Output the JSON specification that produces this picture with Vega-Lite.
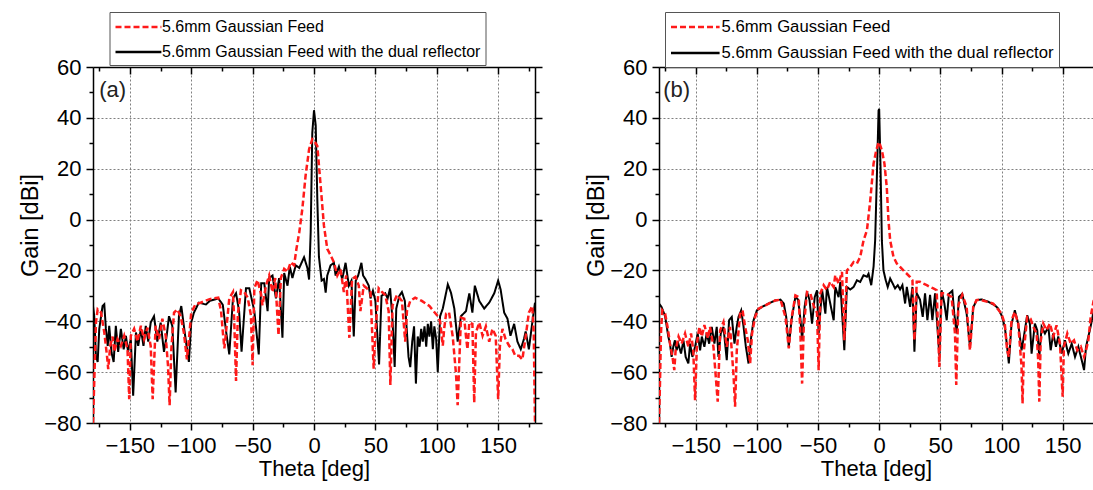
{
  "$schema": "https://vega.github.io/schema/vega-lite/v6.json",
  "padding": {"left": 18, "top": 11, "right": 0, "bottom": 6},
  "background": "white",
  "config": {
    "font": "Liberation Sans",
    "view": {"stroke": null},
    "axis": {
      "domainColor": "black", "domainWidth": 1.5,
      "tickColor": "black", "tickWidth": 1.5,
      "labelColor": "black", "labelFontSize": 22, "labelPadding": 5,
      "titleColor": "black", "titleFontSize": 22, "titleFontWeight": "normal",
      "gridColor": "#808080", "gridDash": [2, 2], "gridWidth": 1,
      "labelOverlap": false, "labelBound": false, "labelFlush": false
    },
    "legend": {
      "orient": "none", "legendY": -55,
      "symbolSize": 324, "symbolStrokeWidth": 2.5,
      "labelColor": "black", "labelLimit": 500,
      "strokeColor": "#555555", "fillColor": "white", "padding": 4.5, "rowPadding": 6
    }
  },
  "datasets": {
    "a": [
      {"s":"D","t":-180,"g":-34},{"s":"D","t":-179,"g":-38},{"s":"D","t":-177.6,"g":-53.6},{"s":"D","t":-176.2,"g":-56},{"s":"D","t":-174.9,"g":-43},{"s":"D","t":-172.2,"g":-34},{"s":"D","t":-170.8,"g":-33.3},{"s":"D","t":-169.5,"g":-43},{"s":"D","t":-168,"g":-49.7},{"s":"D","t":-166.8,"g":-41.8},{"s":"D","t":-164.9,"g":-52.3},{"s":"D","t":-163.2,"g":-56},{"s":"D","t":-161.4,"g":-41.8},{"s":"D","t":-159.5,"g":-52},{"s":"D","t":-157.3,"g":-43},{"s":"D","t":-155,"g":-51},{"s":"D","t":-153.2,"g":-45.7},{"s":"D","t":-151.4,"g":-52},{"s":"D","t":-149.2,"g":-47},{"s":"D","t":-147.3,"g":-69.3},{"s":"D","t":-145,"g":-44.4},{"s":"D","t":-143.2,"g":-49.7},{"s":"D","t":-141,"g":-43},{"s":"D","t":-138.9,"g":-49.7},{"s":"D","t":-137,"g":-41.8},{"s":"D","t":-135,"g":-48},{"s":"D","t":-133,"g":-40.5},{"s":"D","t":-130.3,"g":-38},{"s":"D","t":-127.6,"g":-48},{"s":"D","t":-124.9,"g":-40.5},{"s":"D","t":-122.2,"g":-52},{"s":"D","t":-120,"g":-45.7},{"s":"D","t":-118.1,"g":-38},{"s":"D","t":-115.4,"g":-41.8},{"s":"D","t":-112.7,"g":-68},{"s":"D","t":-110,"g":-38},{"s":"D","t":-108.1,"g":-34},{"s":"D","t":-106,"g":-41.8},{"s":"D","t":-103.8,"g":-49.7},{"s":"D","t":-101.9,"g":-56},{"s":"D","t":-100,"g":-40.5},{"s":"D","t":-97.8,"g":-36.6},{"s":"D","t":-93.8,"g":-32.7},{"s":"D","t":-88,"g":-33.4},{"s":"D","t":-85,"g":-32},{"s":"D","t":-78,"g":-31},{"s":"D","t":-74.3,"g":-33.5},{"s":"D","t":-71.6,"g":-44},{"s":"D","t":-69,"g":-53},{"s":"D","t":-66,"g":-31},{"s":"D","t":-63.5,"g":-29},{"s":"D","t":-61,"g":-36},{"s":"D","t":-59,"g":-52},{"s":"D","t":-55.4,"g":-27},{"s":"D","t":-52.7,"g":-27},{"s":"D","t":-48.6,"g":-36},{"s":"D","t":-45,"g":-53},{"s":"D","t":-43,"g":-25},{"s":"D","t":-40.5,"g":-25},{"s":"D","t":-37.8,"g":-36},{"s":"D","t":-36.5,"g":-23},{"s":"D","t":-33.8,"g":-22},{"s":"D","t":-31,"g":-31},{"s":"D","t":-28.4,"g":-23},{"s":"D","t":-25.7,"g":-46.5},{"s":"D","t":-24.3,"g":-21},{"s":"D","t":-21.6,"g":-26},{"s":"D","t":-19.7,"g":-18.5},{"s":"D","t":-17.6,"g":-23},{"s":"D","t":-14.9,"g":-18},{"s":"D","t":-12,"g":-19},{"s":"D","t":-8.1,"g":-14.8},{"s":"D","t":-5.4,"g":-19},{"s":"D","t":-4,"g":-23.6},{"s":"D","t":-2.7,"g":-5},{"s":"D","t":-1.4,"g":34},{"s":"D","t":0,"g":43},{"s":"D","t":1.4,"g":37},{"s":"D","t":2.7,"g":8},{"s":"D","t":4,"g":-14.5},{"s":"D","t":6.2,"g":-24},{"s":"D","t":8.1,"g":-23.4},{"s":"D","t":9.5,"g":-28.7},{"s":"D","t":10.8,"g":-22},{"s":"D","t":13.5,"g":-18},{"s":"D","t":16.2,"g":-17},{"s":"D","t":17.6,"g":-22},{"s":"D","t":20.3,"g":-18.5},{"s":"D","t":23,"g":-23.4},{"s":"D","t":25.7,"g":-17},{"s":"D","t":28.4,"g":-26},{"s":"D","t":30.5,"g":-24},{"s":"D","t":32.4,"g":-46},{"s":"D","t":34,"g":-24},{"s":"D","t":36,"g":-22},{"s":"D","t":38.6,"g":-17},{"s":"D","t":40,"g":-22},{"s":"D","t":42,"g":-23.5},{"s":"D","t":44.6,"g":-26},{"s":"D","t":46,"g":-31},{"s":"D","t":48,"g":-28},{"s":"D","t":50,"g":-32},{"s":"D","t":53,"g":-57},{"s":"D","t":55,"g":-30},{"s":"D","t":58,"g":-29},{"s":"D","t":60,"g":-31},{"s":"D","t":62,"g":-27},{"s":"D","t":64,"g":-40},{"s":"D","t":65.7,"g":-58},{"s":"D","t":67,"g":-35},{"s":"D","t":69.5,"g":-30},{"s":"D","t":71.6,"g":-28.5},{"s":"D","t":74,"g":-32},{"s":"D","t":77,"g":-54},{"s":"D","t":78.4,"g":-58},{"s":"D","t":80,"g":-48},{"s":"D","t":81.5,"g":-42},{"s":"D","t":83,"g":-64.5},{"s":"D","t":84.5,"g":-46},{"s":"D","t":86,"g":-50},{"s":"D","t":87.3,"g":-43},{"s":"D","t":88.6,"g":-48},{"s":"D","t":90,"g":-42},{"s":"D","t":91.4,"g":-50},{"s":"D","t":92.7,"g":-41},{"s":"D","t":94,"g":-46},{"s":"D","t":95.4,"g":-40},{"s":"D","t":96.8,"g":-51},{"s":"D","t":98,"g":-42},{"s":"D","t":99.5,"g":-47},{"s":"D","t":100.8,"g":-60},{"s":"D","t":102.7,"g":-38},{"s":"D","t":104.9,"g":-35},{"s":"D","t":109,"g":-25.5},{"s":"D","t":111.6,"g":-28.8},{"s":"D","t":114.3,"g":-35},{"s":"D","t":117,"g":-48},{"s":"D","t":119.7,"g":-38},{"s":"D","t":123.8,"g":-36},{"s":"D","t":126.5,"g":-29},{"s":"D","t":129,"g":-36.6},{"s":"D","t":131,"g":-26},{"s":"D","t":134.6,"g":-32},{"s":"D","t":138.6,"g":-35},{"s":"D","t":142.7,"g":-32.7},{"s":"D","t":146.8,"g":-29},{"s":"D","t":150,"g":-24},{"s":"D","t":152,"g":-27.5},{"s":"D","t":154.9,"g":-36.6},{"s":"D","t":157.6,"g":-39},{"s":"D","t":160,"g":-45.7},{"s":"D","t":163,"g":-41},{"s":"D","t":165.7,"g":-48},{"s":"D","t":168.4,"g":-51},{"s":"D","t":171,"g":-47},{"s":"D","t":172.4,"g":-44},{"s":"D","t":175,"g":-51},{"s":"D","t":177.8,"g":-40.5},{"s":"D","t":180,"g":-32.7},
      {"s":"F","t":-180,"g":-80},{"s":"F","t":-179,"g":-64},{"s":"F","t":-177.6,"g":-40.5},{"s":"F","t":-176.2,"g":-35.3},{"s":"F","t":-173.5,"g":-36.5},{"s":"F","t":-170.8,"g":-44.4},{"s":"F","t":-168.6,"g":-53.6},{"s":"F","t":-167.6,"g":-58.8},{"s":"F","t":-166,"g":-49.7},{"s":"F","t":-164,"g":-46},{"s":"F","t":-162.7,"g":-52},{"s":"F","t":-160,"g":-47},{"s":"F","t":-157.3,"g":-49.7},{"s":"F","t":-154.6,"g":-45.7},{"s":"F","t":-151.9,"g":-51},{"s":"F","t":-150.5,"g":-70.6},{"s":"F","t":-149.2,"g":-45.7},{"s":"F","t":-146.5,"g":-43},{"s":"F","t":-143.8,"g":-48},{"s":"F","t":-141,"g":-41.8},{"s":"F","t":-138.4,"g":-47},{"s":"F","t":-135.7,"g":-42.5},{"s":"F","t":-133,"g":-49.7},{"s":"F","t":-131.4,"g":-70.6},{"s":"F","t":-129,"g":-41.8},{"s":"F","t":-126.2,"g":-47},{"s":"F","t":-123.5,"g":-39},{"s":"F","t":-120.8,"g":-45.7},{"s":"F","t":-118.9,"g":-57.5},{"s":"F","t":-117.6,"g":-73},{"s":"F","t":-116.2,"g":-51},{"s":"F","t":-114,"g":-36.6},{"s":"F","t":-111.4,"g":-35.3},{"s":"F","t":-108.6,"g":-38},{"s":"F","t":-106,"g":-44.4},{"s":"F","t":-103.5,"g":-55},{"s":"F","t":-101.5,"g":-45},{"s":"F","t":-100,"g":-36.6},{"s":"F","t":-96.5,"g":-33.3},{"s":"F","t":-92.4,"g":-32.7},{"s":"F","t":-85,"g":-31.3},{"s":"F","t":-78,"g":-30.7},{"s":"F","t":-75.7,"g":-36},{"s":"F","t":-74.3,"g":-44},{"s":"F","t":-73,"g":-50.7},{"s":"F","t":-71.6,"g":-44},{"s":"F","t":-69,"g":-31},{"s":"F","t":-66,"g":-28.5},{"s":"F","t":-65,"g":-39},{"s":"F","t":-63.5,"g":-63.5},{"s":"F","t":-62,"g":-37},{"s":"F","t":-59.5,"g":-27.8},{"s":"F","t":-56.8,"g":-28.5},{"s":"F","t":-54,"g":-30.7},{"s":"F","t":-51.4,"g":-37.6},{"s":"F","t":-50,"g":-57.3},{"s":"F","t":-48.6,"g":-27},{"s":"F","t":-46,"g":-23.8},{"s":"F","t":-43,"g":-29.6},{"s":"F","t":-42,"g":-33.7},{"s":"F","t":-39,"g":-25.8},{"s":"F","t":-36.5,"g":-22},{"s":"F","t":-33.8,"g":-28.5},{"s":"F","t":-31.6,"g":-23},{"s":"F","t":-28.9,"g":-45.5},{"s":"F","t":-27,"g":-23},{"s":"F","t":-24.3,"g":-19.4},{"s":"F","t":-21.6,"g":-20.5},{"s":"F","t":-19,"g":-16.8},{"s":"F","t":-16.2,"g":-18},{"s":"F","t":-14.3,"g":-11.5},{"s":"F","t":-12,"g":-5},{"s":"F","t":-9.5,"g":4.2},{"s":"F","t":-6.8,"g":17.5},{"s":"F","t":-4,"g":27.6},{"s":"F","t":-1.4,"g":31.6},{"s":"F","t":0,"g":31},{"s":"F","t":2.7,"g":29},{"s":"F","t":5.4,"g":13.4},{"s":"F","t":8.1,"g":-2.4},{"s":"F","t":10.8,"g":-11.5},{"s":"F","t":13.5,"g":-14},{"s":"F","t":16.2,"g":-16.8},{"s":"F","t":19,"g":-22},{"s":"F","t":21.6,"g":-19.5},{"s":"F","t":24.3,"g":-28.5},{"s":"F","t":26.2,"g":-22},{"s":"F","t":28.8,"g":-46.5},{"s":"F","t":31,"g":-23.4},{"s":"F","t":33.8,"g":-22.5},{"s":"F","t":36.5,"g":-26},{"s":"F","t":37.8,"g":-36},{"s":"F","t":40.5,"g":-26},{"s":"F","t":43,"g":-27},{"s":"F","t":46,"g":-28.5},{"s":"F","t":48.6,"g":-58.6},{"s":"F","t":50,"g":-44},{"s":"F","t":52.7,"g":-27},{"s":"F","t":55.4,"g":-28.5},{"s":"F","t":58,"g":-29.6},{"s":"F","t":60.8,"g":-36},{"s":"F","t":62.2,"g":-65},{"s":"F","t":64,"g":-33.7},{"s":"F","t":67.6,"g":-29.6},{"s":"F","t":71.6,"g":-32},{"s":"F","t":74.3,"g":-48},{"s":"F","t":75.7,"g":-36},{"s":"F","t":78.4,"g":-32},{"s":"F","t":82.4,"g":-30.7},{"s":"F","t":87.8,"g":-32},{"s":"F","t":94,"g":-34},{"s":"F","t":100.8,"g":-38},{"s":"F","t":102.7,"g":-40},{"s":"F","t":104.9,"g":-49.6},{"s":"F","t":106,"g":-43},{"s":"F","t":107.6,"g":-37},{"s":"F","t":110,"g":-36.5},{"s":"F","t":113,"g":-46},{"s":"F","t":115.7,"g":-61},{"s":"F","t":117,"g":-73},{"s":"F","t":118.4,"g":-55},{"s":"F","t":119.7,"g":-38.6},{"s":"F","t":122.4,"g":-39},{"s":"F","t":123.8,"g":-46},{"s":"F","t":125,"g":-51},{"s":"F","t":126.5,"g":-40.5},{"s":"F","t":129,"g":-41},{"s":"F","t":130.5,"g":-72},{"s":"F","t":131.9,"g":-44.4},{"s":"F","t":134.6,"g":-40.5},{"s":"F","t":137.3,"g":-45.7},{"s":"F","t":140,"g":-42},{"s":"F","t":142.7,"g":-48},{"s":"F","t":145.4,"g":-43},{"s":"F","t":148,"g":-45.7},{"s":"F","t":150,"g":-70.6},{"s":"F","t":151.4,"g":-49.7},{"s":"F","t":153.5,"g":-43},{"s":"F","t":156,"g":-47},{"s":"F","t":159,"g":-49.7},{"s":"F","t":161.6,"g":-51},{"s":"F","t":164,"g":-53.6},{"s":"F","t":167,"g":-53.6},{"s":"F","t":169.7,"g":-55},{"s":"F","t":172.4,"g":-46},{"s":"F","t":175,"g":-36.6},{"s":"F","t":177.8,"g":-34},{"s":"F","t":179,"g":-45},{"s":"F","t":180,"g":-80}
    ],
    "b": [
      {"s":"D","t":-180,"g":-33},{"s":"D","t":-177.9,"g":-34.4},{"s":"D","t":-175,"g":-38},{"s":"D","t":-172.4,"g":-46},{"s":"D","t":-171,"g":-48.8},{"s":"D","t":-169.7,"g":-54},{"s":"D","t":-168.3,"g":-50},{"s":"D","t":-167,"g":-47.5},{"s":"D","t":-165.6,"g":-51.4},{"s":"D","t":-164.2,"g":-48.8},{"s":"D","t":-162,"g":-52.7},{"s":"D","t":-160,"g":-47.5},{"s":"D","t":-158.2,"g":-54},{"s":"D","t":-156,"g":-56.6},{"s":"D","t":-154.6,"g":-48.8},{"s":"D","t":-152.7,"g":-54},{"s":"D","t":-150.5,"g":-50},{"s":"D","t":-148.4,"g":-44.8},{"s":"D","t":-146.4,"g":-51.4},{"s":"D","t":-145,"g":-46},{"s":"D","t":-142.9,"g":-50},{"s":"D","t":-141,"g":-44.8},{"s":"D","t":-139,"g":-48.8},{"s":"D","t":-136.9,"g":-42.2},{"s":"D","t":-134.7,"g":-48.8},{"s":"D","t":-132.8,"g":-42.2},{"s":"D","t":-131.4,"g":-54},{"s":"D","t":-129.5,"g":-44.8},{"s":"D","t":-127.3,"g":-42.2},{"s":"D","t":-124.6,"g":-55.3},{"s":"D","t":-122.7,"g":-39.6},{"s":"D","t":-120.5,"g":-38.3},{"s":"D","t":-118.3,"g":-48.8},{"s":"D","t":-116.4,"g":-42},{"s":"D","t":-115,"g":-38.3},{"s":"D","t":-112.8,"g":-35.7},{"s":"D","t":-110.9,"g":-42},{"s":"D","t":-109,"g":-50},{"s":"D","t":-106.8,"g":-56.6},{"s":"D","t":-104.6,"g":-46},{"s":"D","t":-102.7,"g":-39.6},{"s":"D","t":-100,"g":-35.7},{"s":"D","t":-95.9,"g":-34.4},{"s":"D","t":-90.4,"g":-33},{"s":"D","t":-85,"g":-31.8},{"s":"D","t":-80.7,"g":-31.5},{"s":"D","t":-78,"g":-33},{"s":"D","t":-76,"g":-38.3},{"s":"D","t":-73.9,"g":-50},{"s":"D","t":-71.7,"g":-39.6},{"s":"D","t":-68.5,"g":-30.4},{"s":"D","t":-66.3,"g":-31.5},{"s":"D","t":-64.4,"g":-39},{"s":"D","t":-63,"g":-47.4},{"s":"D","t":-60.9,"g":-34},{"s":"D","t":-59,"g":-28.5},{"s":"D","t":-57,"g":-31.5},{"s":"D","t":-54.9,"g":-40.9},{"s":"D","t":-52.7,"g":-30.5},{"s":"D","t":-50.8,"g":-27.8},{"s":"D","t":-49.5,"g":-44.8},{"s":"D","t":-46.7,"g":-27.5},{"s":"D","t":-44,"g":-37},{"s":"D","t":-42.7,"g":-26.5},{"s":"D","t":-40,"g":-33},{"s":"D","t":-37.2,"g":-39.6},{"s":"D","t":-35.9,"g":-26.5},{"s":"D","t":-33.2,"g":-30.5},{"s":"D","t":-31.8,"g":-24.5},{"s":"D","t":-28.5,"g":-51.4},{"s":"D","t":-26.4,"g":-26.5},{"s":"D","t":-23.6,"g":-27.5},{"s":"D","t":-20.9,"g":-26.5},{"s":"D","t":-18.2,"g":-23.9},{"s":"D","t":-15.5,"g":-24.5},{"s":"D","t":-12.8,"g":-21.9},{"s":"D","t":-10,"g":-22.5},{"s":"D","t":-8.7,"g":-21.3},{"s":"D","t":-6.5,"g":-25.8},{"s":"D","t":-4.6,"g":-18.6},{"s":"D","t":-3.3,"g":-8.2},{"s":"D","t":-1.9,"g":16.7},{"s":"D","t":-0.5,"g":42.9},{"s":"D","t":0,"g":43.5},{"s":"D","t":1.1,"g":20.6},{"s":"D","t":2.2,"g":-8.2},{"s":"D","t":3.5,"g":-20},{"s":"D","t":5.4,"g":-23.9},{"s":"D","t":7,"g":-26.5},{"s":"D","t":9,"g":-23.2},{"s":"D","t":10.9,"g":-25},{"s":"D","t":13,"g":-27.1},{"s":"D","t":15.2,"g":-25.8},{"s":"D","t":17.1,"g":-27.5},{"s":"D","t":19,"g":-25.8},{"s":"D","t":21.2,"g":-33},{"s":"D","t":22.6,"g":-26.5},{"s":"D","t":25.3,"g":-34.3},{"s":"D","t":27.2,"g":-26.5},{"s":"D","t":28.8,"g":-52},{"s":"D","t":30.7,"g":-29},{"s":"D","t":33.4,"g":-31.5},{"s":"D","t":35.6,"g":-38.3},{"s":"D","t":37.5,"g":-29},{"s":"D","t":39.4,"g":-39.6},{"s":"D","t":41.6,"g":-29.6},{"s":"D","t":43.5,"g":-39.6},{"s":"D","t":45.7,"g":-29},{"s":"D","t":49.2,"g":-53.5},{"s":"D","t":51,"g":-27.8},{"s":"D","t":53.3,"g":-33},{"s":"D","t":55.2,"g":-39.6},{"s":"D","t":57,"g":-29.2},{"s":"D","t":59.8,"g":-28},{"s":"D","t":61.4,"g":-37},{"s":"D","t":63.3,"g":-44.8},{"s":"D","t":65.2,"g":-30.4},{"s":"D","t":67.9,"g":-29.2},{"s":"D","t":71.5,"g":-37},{"s":"D","t":74.2,"g":-50},{"s":"D","t":76.9,"g":-34.6},{"s":"D","t":79.6,"g":-31.7},{"s":"D","t":83.7,"g":-31.4},{"s":"D","t":89.1,"g":-32.3},{"s":"D","t":94.6,"g":-33.7},{"s":"D","t":97.3,"g":-35},{"s":"D","t":100,"g":-37.6},{"s":"D","t":102.7,"g":-42.2},{"s":"D","t":104.6,"g":-50},{"s":"D","t":106,"g":-56.6},{"s":"D","t":108.2,"g":-41},{"s":"D","t":110.9,"g":-35.7},{"s":"D","t":113.7,"g":-41},{"s":"D","t":116.4,"g":-51.4},{"s":"D","t":118.3,"g":-46},{"s":"D","t":121,"g":-37.6},{"s":"D","t":123.2,"g":-41},{"s":"D","t":124.6,"g":-52.7},{"s":"D","t":127.3,"g":-40.9},{"s":"D","t":129.2,"g":-43.5},{"s":"D","t":130.9,"g":-54},{"s":"D","t":132.8,"g":-42.2},{"s":"D","t":135.5,"g":-44.8},{"s":"D","t":138.3,"g":-42.2},{"s":"D","t":140.2,"g":-51.4},{"s":"D","t":142.3,"g":-44.8},{"s":"D","t":144.5,"g":-50},{"s":"D","t":146.4,"g":-46},{"s":"D","t":149.2,"g":-52.7},{"s":"D","t":151.9,"g":-47.5},{"s":"D","t":154.6,"g":-52.7},{"s":"D","t":157.4,"g":-48.8},{"s":"D","t":160.1,"g":-54},{"s":"D","t":162.8,"g":-50},{"s":"D","t":165.6,"g":-55.3},{"s":"D","t":167.5,"g":-59.2},{"s":"D","t":169.1,"g":-50},{"s":"D","t":171,"g":-46},{"s":"D","t":172.9,"g":-42},{"s":"D","t":174.9,"g":-37},{"s":"D","t":177,"g":-34},{"s":"D","t":180,"g":-33},
      {"s":"F","t":-180,"g":-80},{"s":"F","t":-179.2,"g":-64.4},{"s":"F","t":-178.4,"g":-44.8},{"s":"F","t":-177.3,"g":-35.7},{"s":"F","t":-175,"g":-37},{"s":"F","t":-173,"g":-42.2},{"s":"F","t":-171,"g":-48.8},{"s":"F","t":-169,"g":-54},{"s":"F","t":-167.5,"g":-59.2},{"s":"F","t":-166.4,"g":-51.4},{"s":"F","t":-164,"g":-46},{"s":"F","t":-161.5,"g":-48.8},{"s":"F","t":-158.7,"g":-44.8},{"s":"F","t":-156,"g":-50},{"s":"F","t":-153.8,"g":-44.8},{"s":"F","t":-152,"g":-51.4},{"s":"F","t":-150.5,"g":-71},{"s":"F","t":-149,"g":-48.8},{"s":"F","t":-147,"g":-42.2},{"s":"F","t":-145,"g":-46},{"s":"F","t":-142.9,"g":-41.5},{"s":"F","t":-140,"g":-46.7},{"s":"F","t":-138.3,"g":-42.2},{"s":"F","t":-135.5,"g":-50},{"s":"F","t":-132,"g":-71.6},{"s":"F","t":-130,"g":-43.5},{"s":"F","t":-127.3,"g":-40.3},{"s":"F","t":-124.6,"g":-50},{"s":"F","t":-121.9,"g":-42.2},{"s":"F","t":-119,"g":-61.8},{"s":"F","t":-117.8,"g":-73.6},{"s":"F","t":-116.4,"g":-51.4},{"s":"F","t":-113.7,"g":-37},{"s":"F","t":-111.7,"g":-35.7},{"s":"F","t":-109.6,"g":-42.2},{"s":"F","t":-107.4,"g":-47.5},{"s":"F","t":-105.5,"g":-56.6},{"s":"F","t":-104,"g":-45},{"s":"F","t":-101.4,"g":-38.3},{"s":"F","t":-98.6,"g":-35},{"s":"F","t":-93,"g":-33.7},{"s":"F","t":-85,"g":-31.8},{"s":"F","t":-80.7,"g":-31.5},{"s":"F","t":-76.6,"g":-38.3},{"s":"F","t":-73.9,"g":-50.7},{"s":"F","t":-71.7,"g":-39},{"s":"F","t":-68.5,"g":-29.8},{"s":"F","t":-65.8,"g":-30.5},{"s":"F","t":-64.4,"g":-45},{"s":"F","t":-63,"g":-64.5},{"s":"F","t":-61.7,"g":-42.7},{"s":"F","t":-59,"g":-28.5},{"s":"F","t":-56.3,"g":-29},{"s":"F","t":-53.5,"g":-34},{"s":"F","t":-50.8,"g":-36.7},{"s":"F","t":-49.5,"g":-59.2},{"s":"F","t":-48.1,"g":-29},{"s":"F","t":-45.4,"g":-25.8},{"s":"F","t":-42.7,"g":-27.7},{"s":"F","t":-40,"g":-24.5},{"s":"F","t":-37.2,"g":-26.5},{"s":"F","t":-35.9,"g":-21.9},{"s":"F","t":-33.2,"g":-25.2},{"s":"F","t":-30.4,"g":-20.6},{"s":"F","t":-28.5,"g":-47.4},{"s":"F","t":-26.4,"g":-20},{"s":"F","t":-23.6,"g":-18.6},{"s":"F","t":-20.9,"g":-16.7},{"s":"F","t":-18.2,"g":-17.3},{"s":"F","t":-15.5,"g":-14.7},{"s":"F","t":-12.8,"g":-8.2},{"s":"F","t":-10,"g":-4.2},{"s":"F","t":-7.3,"g":7.5},{"s":"F","t":-4.6,"g":22},{"s":"F","t":-2.4,"g":27.2},{"s":"F","t":-0.5,"g":30.4},{"s":"F","t":0,"g":30.4},{"s":"F","t":2.2,"g":27.2},{"s":"F","t":4.3,"g":22},{"s":"F","t":6.2,"g":12.8},{"s":"F","t":7.6,"g":-0.3},{"s":"F","t":9,"g":-8.2},{"s":"F","t":11.7,"g":-14.7},{"s":"F","t":14.4,"g":-17.3},{"s":"F","t":17.1,"g":-18.6},{"s":"F","t":19.8,"g":-20},{"s":"F","t":22.6,"g":-21.3},{"s":"F","t":25.3,"g":-22.6},{"s":"F","t":27.2,"g":-23.9},{"s":"F","t":28.8,"g":-47.4},{"s":"F","t":30.7,"g":-24.5},{"s":"F","t":33.4,"g":-24.5},{"s":"F","t":36.1,"g":-25.2},{"s":"F","t":38.9,"g":-25.8},{"s":"F","t":41.6,"g":-26.5},{"s":"F","t":44.3,"g":-27.1},{"s":"F","t":47,"g":-27.8},{"s":"F","t":49.2,"g":-58},{"s":"F","t":51,"g":-29},{"s":"F","t":53.8,"g":-29},{"s":"F","t":56.5,"g":-29.6},{"s":"F","t":59.2,"g":-30.4},{"s":"F","t":62,"g":-45},{"s":"F","t":63,"g":-65},{"s":"F","t":64.7,"g":-33.7},{"s":"F","t":67.9,"g":-29.6},{"s":"F","t":71.5,"g":-34.3},{"s":"F","t":74.2,"g":-51.4},{"s":"F","t":76.9,"g":-34.3},{"s":"F","t":79.6,"g":-31.7},{"s":"F","t":82.2,"g":-31.5},{"s":"F","t":93.2,"g":-33},{"s":"F","t":100,"g":-37},{"s":"F","t":102.7,"g":-41},{"s":"F","t":104.6,"g":-51.4},{"s":"F","t":106,"g":-54},{"s":"F","t":108.2,"g":-39.6},{"s":"F","t":110.9,"g":-36.3},{"s":"F","t":113.7,"g":-41},{"s":"F","t":116.4,"g":-58},{"s":"F","t":117.2,"g":-72.3},{"s":"F","t":118.3,"g":-51.4},{"s":"F","t":121,"g":-38.3},{"s":"F","t":123.7,"g":-39},{"s":"F","t":126,"g":-42.2},{"s":"F","t":128.7,"g":-44.8},{"s":"F","t":130,"g":-55.3},{"s":"F","t":130.9,"g":-71.6},{"s":"F","t":132,"g":-48},{"s":"F","t":134.2,"g":-40.9},{"s":"F","t":136.9,"g":-43.5},{"s":"F","t":139.6,"g":-40.9},{"s":"F","t":142.3,"g":-46},{"s":"F","t":145,"g":-41.6},{"s":"F","t":147.8,"g":-48.8},{"s":"F","t":150,"g":-69.7},{"s":"F","t":151,"g":-50},{"s":"F","t":153.8,"g":-44.8},{"s":"F","t":156.6,"g":-48.8},{"s":"F","t":159.3,"g":-47.5},{"s":"F","t":162,"g":-51.4},{"s":"F","t":164.8,"g":-50},{"s":"F","t":167.5,"g":-54},{"s":"F","t":169.1,"g":-51.4},{"s":"F","t":171,"g":-47.5},{"s":"F","t":172.9,"g":-38.3},{"s":"F","t":174.9,"g":-33},{"s":"F","t":177,"g":-35},{"s":"F","t":179,"g":-45},{"s":"F","t":180,"g":-80}
    ]
  },
  "spacing": 41,
  "resolve": {
    "scale": {"color": "independent", "strokeDash": "independent", "x": "independent", "y": "independent"},
    "legend": {"color": "independent", "strokeDash": "independent"}
  },
  "hconcat": [
    {
      "width": 442, "height": 356,
      "data": {"name": "a"},
      "resolve": {"axis": {"x": "independent", "y": "independent"}},
      "layer": [
        {
          "transform": [{"filter": "datum.s === 'D'"}],
          "mark": {"type": "line", "strokeWidth": 2, "clip": true},
          "encoding": {
            "x": {"field": "t", "type": "quantitative", "scale": {"domain": [-180, 180], "nice": false, "zero": false},
              "axis": {"orient": "bottom", "title": "Theta [deg]", "titlePadding": 2,
                "values": [-175,-150,-125,-100,-75,-50,-25,0,25,50,75,100,125,150,175],
                "labelExpr": "datum.value % 50 === 0 ? datum.label : ''",
                "tickSize": {"condition": {"test": "datum.value % 50 === 0", "value": 7}, "value": 4},
                "gridOpacity": {"condition": {"test": "datum.value % 50 === 0", "value": 1}, "value": 0}}},
            "y": {"field": "g", "type": "quantitative", "scale": {"domain": [-80, 60], "nice": false, "zero": false},
              "axis": {"orient": "left", "title": "Gain [dBi]", "titleFontSize": 23.5, "titlePadding": 0, "titleY": 158, "minExtent": 51, "maxExtent": 51,
                "values": [-80,-70,-60,-50,-40,-30,-20,-10,0,10,20,30,40,50,60],
                "labelExpr": "datum.value % 20 === 0 ? datum.label : ''",
                "tickSize": {"condition": {"test": "datum.value % 20 === 0", "value": 7}, "value": 4},
                "gridOpacity": {"condition": {"test": "datum.value % 20 === 0", "value": 1}, "value": 0}}},
            "color": {"field": "s", "type": "nominal", "scale": {"domain": ["F", "D"], "range": ["#ff1a1a", "#000000"]},
              "legend": {"legendX": 16.5, "title": null, "symbolType": "M-1,0H4.1", "labelOffset": 27, "labelFontSize": 16, "labelExpr": "datum.label === 'F' ? '5.6mm Gaussian Feed' : '5.6mm Gaussian Feed with the dual reflector'"}},
            "strokeDash": {"field": "s", "type": "nominal", "scale": {"domain": ["F", "D"], "range": [[6, 3], [1, 0]]},
              "legend": {"legendX": 16.5, "title": null, "symbolType": "M-1,0H4.1", "labelOffset": 27, "labelFontSize": 16, "labelExpr": "datum.label === 'F' ? '5.6mm Gaussian Feed' : '5.6mm Gaussian Feed with the dual reflector'"}}
          }
        },
        {
          "transform": [{"filter": "datum.s === 'F'"}],
          "mark": {"type": "line", "strokeWidth": 2.5, "clip": true},
          "encoding": {
            "x": {"field": "t", "type": "quantitative", "scale": {"domain": [-180, 180], "nice": false, "zero": false},
              "axis": {"orient": "top", "title": null, "labels": false, "grid": false,
                "values": [-175,-150,-125,-100,-75,-50,-25,0,25,50,75,100,125,150,175],
                "tickSize": {"condition": {"test": "datum.value % 50 === 0", "value": -7}, "value": -4}}},
            "y": {"field": "g", "type": "quantitative", "scale": {"domain": [-80, 60], "nice": false, "zero": false},
              "axis": {"orient": "right", "title": null, "labels": false, "grid": false,
                "values": [-80,-70,-60,-50,-40,-30,-20,-10,0,10,20,30,40,50,60],
                "tickSize": {"condition": {"test": "datum.value % 20 === 0", "value": 7}, "value": 4}}},
            "color": {"field": "s", "type": "nominal", "scale": {"domain": ["F", "D"], "range": ["#ff1a1a", "#000000"]}},
            "strokeDash": {"field": "s", "type": "nominal", "scale": {"domain": ["F", "D"], "range": [[6, 3], [1, 0]]}}
          }
        },
        {
          "data": {"values": [{"t": -175, "g": 51, "lab": "(a)"}]},
          "mark": {"type": "text", "align": "left", "baseline": "middle", "fontSize": 22, "color": "#222222"},
          "encoding": {
            "x": {"field": "t", "type": "quantitative", "axis": null},
            "y": {"field": "g", "type": "quantitative", "axis": null},
            "text": {"field": "lab"}
          }
        }
      ]
    },
    {
      "width": 434, "height": 356,
      "data": {"name": "b"},
      "resolve": {"axis": {"x": "independent", "y": "independent"}},
      "layer": [
        {
          "transform": [{"filter": "datum.s === 'D'"}],
          "mark": {"type": "line", "strokeWidth": 2, "clip": true},
          "encoding": {
            "x": {"field": "t", "type": "quantitative", "scale": {"domain": [-180, 174.8], "nice": false, "zero": false},
              "axis": {"orient": "bottom", "title": "Theta [deg]", "titlePadding": 2,
                "values": [-175,-150,-125,-100,-75,-50,-25,0,25,50,75,100,125,150],
                "labelExpr": "datum.value % 50 === 0 ? datum.label : ''",
                "tickSize": {"condition": {"test": "datum.value % 50 === 0", "value": 7}, "value": 4},
                "gridOpacity": {"condition": {"test": "datum.value % 50 === 0", "value": 1}, "value": 0}}},
            "y": {"field": "g", "type": "quantitative", "scale": {"domain": [-80, 60], "nice": false, "zero": false},
              "axis": {"orient": "left", "title": "Gain [dBi]", "titleFontSize": 23.5, "titlePadding": 0, "titleY": 158, "minExtent": 51, "maxExtent": 51,
                "values": [-80,-70,-60,-50,-40,-30,-20,-10,0,10,20,30,40,50,60],
                "labelExpr": "datum.value % 20 === 0 ? datum.label : ''",
                "tickSize": {"condition": {"test": "datum.value % 20 === 0", "value": 7}, "value": 4},
                "gridOpacity": {"condition": {"test": "datum.value % 20 === 0", "value": 1}, "value": 0}}},
            "color": {"field": "s", "type": "nominal", "scale": {"domain": ["F", "D"], "range": ["#ff1a1a", "#000000"]},
              "legend": {"legendX": 6, "title": null, "symbolType": "M-1,0H4.4", "labelOffset": 31, "labelFontSize": 16.7, "labelExpr": "datum.label === 'F' ? '5.6mm Gaussian Feed' : '5.6mm Gaussian Feed with the dual reflector'"}},
            "strokeDash": {"field": "s", "type": "nominal", "scale": {"domain": ["F", "D"], "range": [[6, 3], [1, 0]]},
              "legend": {"legendX": 6, "title": null, "symbolType": "M-1,0H4.4", "labelOffset": 31, "labelFontSize": 16.7, "labelExpr": "datum.label === 'F' ? '5.6mm Gaussian Feed' : '5.6mm Gaussian Feed with the dual reflector'"}}
          }
        },
        {
          "transform": [{"filter": "datum.s === 'F'"}],
          "mark": {"type": "line", "strokeWidth": 2.5, "clip": true},
          "encoding": {
            "x": {"field": "t", "type": "quantitative", "scale": {"domain": [-180, 174.8], "nice": false, "zero": false},
              "axis": {"orient": "top", "title": null, "labels": false, "grid": false,
                "values": [-175,-150,-125,-100,-75,-50,-25,0,25,50,75,100,125,150],
                "tickSize": {"condition": {"test": "datum.value % 50 === 0", "value": -7}, "value": -4}}},
            "y": {"field": "g", "type": "quantitative", "scale": {"domain": [-80, 60], "nice": false, "zero": false}, "axis": null},
            "color": {"field": "s", "type": "nominal", "scale": {"domain": ["F", "D"], "range": ["#ff1a1a", "#000000"]}},
            "strokeDash": {"field": "s", "type": "nominal", "scale": {"domain": ["F", "D"], "range": [[6, 3], [1, 0]]}}
          }
        },
        {
          "data": {"values": [{"t": -176.5, "g": 51, "lab": "(b)"}]},
          "mark": {"type": "text", "align": "left", "baseline": "middle", "fontSize": 22, "color": "#222222"},
          "encoding": {
            "x": {"field": "t", "type": "quantitative", "axis": null},
            "y": {"field": "g", "type": "quantitative", "axis": null},
            "text": {"field": "lab"}
          }
        }
      ]
    }
  ]
}
